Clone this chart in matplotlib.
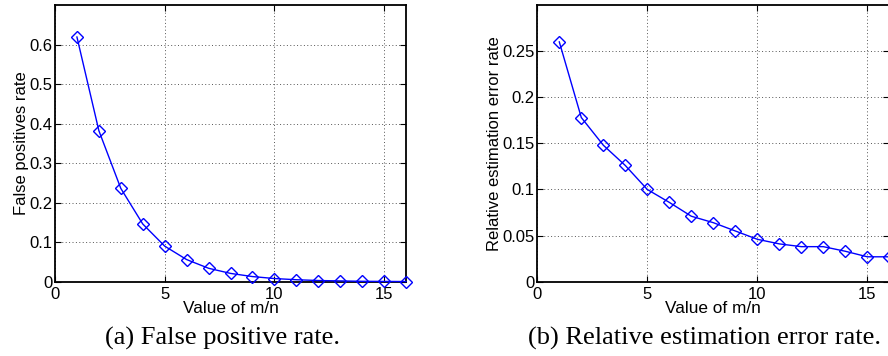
import matplotlib
matplotlib.use('Agg')
import matplotlib.pyplot as plt

# m/n values shared by both panels
mn = [1, 2, 3, 4, 5, 6, 7, 8, 9, 10, 11, 12, 13, 14, 15, 16]

# (a) false positive rate
fp_rate = [0.619, 0.382, 0.236, 0.146, 0.090, 0.056, 0.034, 0.021,
           0.013, 0.008, 0.005, 0.003, 0.002, 0.001, 0.0007, 0.0004]

# (b) relative estimation error rate
err_rate = [0.260, 0.178, 0.148, 0.126, 0.100, 0.086, 0.071, 0.064,
            0.055, 0.046, 0.041, 0.038, 0.038, 0.033, 0.027, 0.027]

x_ticks = [0, 5, 10, 15]
fp_ticks = [0, 0.1, 0.2, 0.3, 0.4, 0.5, 0.6]
fp_tick_labels = ['0', '0.1', '0.2', '0.3', '0.4', '0.5', '0.6']
err_ticks = [0, 0.05, 0.1, 0.15, 0.2, 0.25]
err_tick_labels = ['0', '0.05', '0.1', '0.15', '0.2', '0.25']

plt.rcParams['font.family'] = ['Liberation Sans', 'DejaVu Sans']

W, H = 888, 356
fig = plt.figure(figsize=(W / 100, H / 100), dpi=100)


def panel(rect, y, ylim, yticks, ylabels, ylabel, caption, cap_x):
    ax = fig.add_axes(rect)
    ax.plot(mn, y, color='#0000ff', linewidth=1.0, marker='D',
            markersize=6.5, markerfacecolor='none', markeredgecolor='#0000ff',
            markeredgewidth=1.0, clip_on=False, zorder=3)
    ax.set_xlim(0, 16)
    ax.set_ylim(*ylim)
    ax.set_xticks(x_ticks)
    ax.set_xticklabels([str(t) for t in x_ticks])
    ax.set_yticks(yticks)
    ax.set_yticklabels(ylabels)
    ax.tick_params(direction='in', top=True, right=True, length=4,
                   width=0.8, labelsize=12, pad=2)
    ax.tick_params(axis='x', pad=4)
    ax.grid(True, linestyle=(0, (1, 2.5)), color='#555555', linewidth=0.7)
    for s in ax.spines.values():
        s.set_linewidth(1.3)
    ax.set_xlabel('Value of m/n', fontsize=12.4, labelpad=-1)
    ax.set_ylabel(ylabel, fontsize=12, labelpad=0)
    fig.text(cap_x, (H - 338) / H, caption, ha='center', va='center',
             fontsize=19, family=['Liberation Serif', 'DejaVu Serif'])
    return ax


panel([55 / W, (H - 281.7) / H, 351 / W, 276.7 / H], fp_rate, (0, 0.7),
      fp_ticks, fp_tick_labels, 'False positives rate',
      '(a) False positive rate.', 222 / W)
panel([537.3 / W, (H - 281.7) / H, 352 / W, 276.7 / H], err_rate, (0, 0.3),
      err_ticks, err_tick_labels, 'Relative estimation error rate',
      '(b) Relative estimation error rate.', 704 / W)

fig.savefig('out.png', dpi=100)
